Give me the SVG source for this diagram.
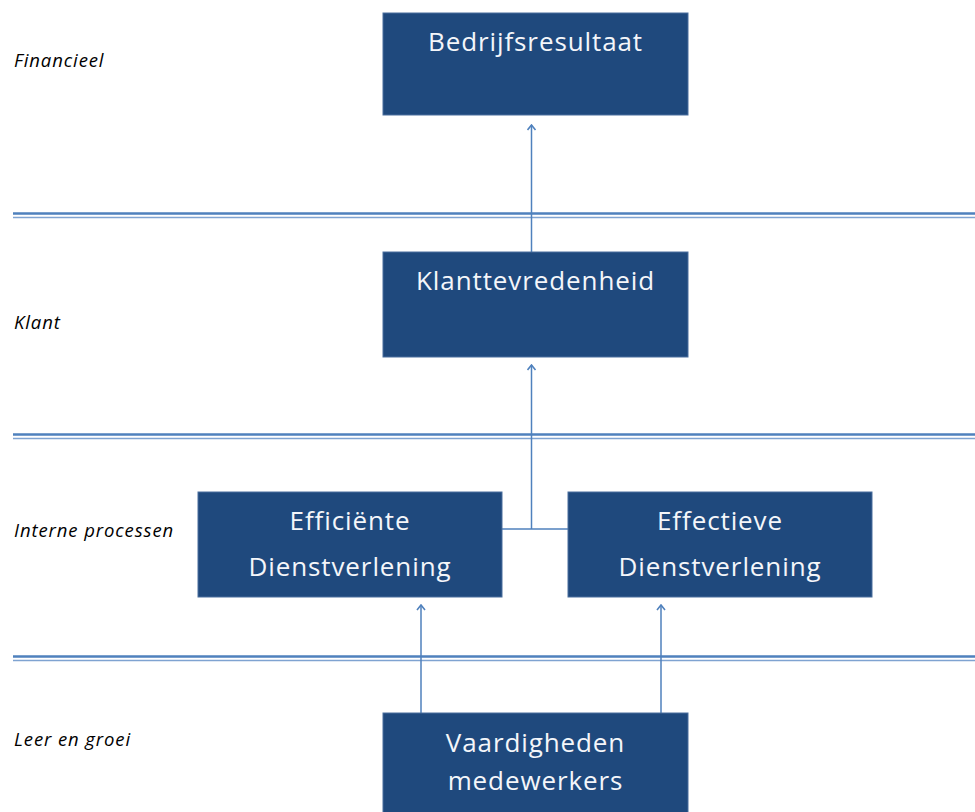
<svg xmlns="http://www.w3.org/2000/svg" width="975" height="812" viewBox="0 0 975 812">
<defs>
<style>
.box{fill:#1f497d;stroke:#4a6f9e;stroke-width:1}
.bt{fill:#f4f6fa;font-family:"Open Sans","Liberation Sans",sans-serif;font-size:26px;letter-spacing:0.9px;text-anchor:middle}
.lbl{fill:#000;font-family:"Open Sans","Liberation Sans",sans-serif;font-size:18.5px;letter-spacing:0.9px;font-style:italic}
.sep1{stroke:#4f81bd;stroke-width:2.5}
.sep2{stroke:#7fa3d1;stroke-width:1.5}
.con{stroke:#4f81bd;stroke-width:1.5;fill:none}
</style>
<marker id="ah" viewBox="0 0 10 10" refX="9" refY="5" markerWidth="10" markerHeight="10" markerUnits="userSpaceOnUse" orient="auto">
<path d="M4,1 L9,5 L4,9" fill="none" stroke="#4f81bd" stroke-width="1.6"/>
</marker>
</defs>
<rect width="975" height="812" fill="#fff"/>
<g id="separators">
<line class="sep1" x1="13" y1="213.5" x2="975" y2="213.5"/><line class="sep2" x1="13" y1="217.5" x2="975" y2="217.5"/>
<line class="sep1" x1="13" y1="434.5" x2="975" y2="434.5"/><line class="sep2" x1="13" y1="438.5" x2="975" y2="438.5"/>
<line class="sep1" x1="13" y1="656.5" x2="975" y2="656.5"/><line class="sep2" x1="13" y1="660.5" x2="975" y2="660.5"/>
</g>
<g id="labels">
<text class="lbl" x="14" y="67">Financieel</text>
<text class="lbl" x="14" y="329">Klant</text>
<text class="lbl" x="14" y="537">Interne processen</text>
<text class="lbl" x="14" y="746">Leer en groei</text>
</g>
<g id="connectors">
<line class="con" x1="531.5" y1="252" x2="531.5" y2="125" marker-end="url(#ah)"/>
<line class="con" x1="531.5" y1="529" x2="531.5" y2="365" marker-end="url(#ah)"/>
<line class="con" x1="502" y1="529" x2="568" y2="529"/>
<line class="con" x1="421" y1="713" x2="421" y2="605" marker-end="url(#ah)"/>
<line class="con" x1="661" y1="713" x2="661" y2="605" marker-end="url(#ah)"/>
</g>
<g id="bedrijfsresultaat"><rect class="box" x="383" y="13" width="305" height="102"/><text class="bt" x="535.5" y="51">Bedrijfsresultaat</text></g>
<g id="klanttevredenheid"><rect class="box" x="383" y="252" width="305" height="105"/><text class="bt" x="535.5" y="290">Klanttevredenheid</text></g>
<g id="efficiente"><rect class="box" x="198" y="492" width="304" height="105"/><text class="bt" x="350" y="530">Efficiënte</text><text class="bt" x="350" y="576">Dienstverlening</text></g>
<g id="effectieve"><rect class="box" x="568" y="492" width="304" height="105"/><text class="bt" x="720" y="530">Effectieve</text><text class="bt" x="720" y="576">Dienstverlening</text></g>
<g id="vaardigheden"><rect class="box" x="383" y="713" width="305" height="105"/><text class="bt" x="535.5" y="752">Vaardigheden</text><text class="bt" x="535.5" y="790">medewerkers</text></g>
</svg>
